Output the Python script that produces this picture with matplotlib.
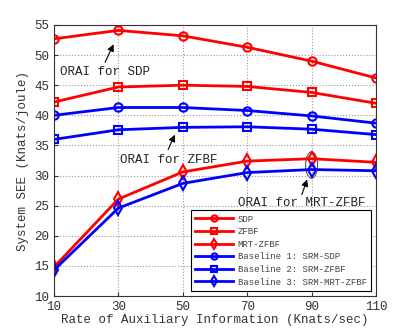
import matplotlib
matplotlib.use('Agg')
import matplotlib.pyplot as plt
from matplotlib.patches import Ellipse

plt.rcParams['font.family'] = ['Liberation Mono', 'DejaVu Sans Mono']

rate = [10, 30, 50, 70, 90, 110]
sdp = [52.7, 54.1, 53.2, 51.3, 49.0, 46.2]
zfbf = [42.2, 44.7, 45.0, 44.8, 43.8, 42.0]
mrt_zfbf = [14.8, 26.1, 30.6, 32.4, 32.8, 32.2]
srm_sdp = [40.0, 41.3, 41.3, 40.8, 39.9, 38.7]
srm_zfbf = [36.0, 37.6, 38.0, 38.1, 37.7, 36.8]
srm_mrt_zfbf = [14.3, 24.6, 28.7, 30.5, 31.0, 30.8]

fig = plt.figure(figsize=(4.15, 3.33), dpi=100)
ax = fig.add_axes([0.130, 0.111, 0.776, 0.814])

lw = 2
ms = 6
ax.plot(rate, sdp, color='red', lw=lw, marker='o', ms=ms, mfc='none', mew=1.5, label='SDP')
ax.plot(rate, zfbf, color='red', lw=lw, marker='s', ms=ms, mfc='none', mew=1.5, label='ZFBF')
ax.plot(rate, mrt_zfbf, color='red', lw=lw, marker='d', ms=ms + 1, mfc='none', mew=1.5, label='MRT-ZFBF')
ax.plot(rate, srm_sdp, color='blue', lw=lw, marker='o', ms=ms, mfc='none', mew=1.5, label='Baseline 1: SRM-SDP')
ax.plot(rate, srm_zfbf, color='blue', lw=lw, marker='s', ms=ms, mfc='none', mew=1.5, label='Baseline 2: SRM-ZFBF')
ax.plot(rate, srm_mrt_zfbf, color='blue', lw=lw, marker='d', ms=ms + 1, mfc='none', mew=1.5, label='Baseline 3: SRM-MRT-ZFBF')

ax.set_xlim(10, 110)
ax.set_ylim(10, 55)
ax.set_xticks(rate)
ax.set_yticks(range(10, 56, 5))
ax.grid(True, linestyle=':', color='#999999', lw=0.8)
ax.tick_params(direction='in', labelsize=9, colors='#333333', length=3)
for s in ax.spines.values():
    s.set_color('#333333')

ax.set_xlabel('Rate of Auxiliary Information (Knats/sec)', fontsize=9, color='#333333', labelpad=1)
ax.set_ylabel('System SEE (Knats/joule)', fontsize=9, color='#333333', labelpad=4)

akw = dict(arrowprops=dict(arrowstyle='-|>', color='black', lw=0.8, mutation_scale=10))
ax.annotate('', xy=(28.9, 52.2), xytext=(25.5, 48.4), **akw)
ax.text(11.9, 47.2, 'ORAI for SDP', fontsize=9, color='#222222', va='center')
ax.annotate('', xy=(47.9, 37.2), xytext=(45.1, 33.9), **akw)
ax.text(30.5, 32.6, 'ORAI for ZFBF', fontsize=9, color='#222222', va='center')
ax.annotate('', xy=(88.9, 29.8), xytext=(86.7, 26.4), **akw)
ax.text(67.1, 25.5, 'ORAI for MRT-ZFBF', fontsize=9, color='#222222', va='center')
ax.add_patch(Ellipse((90, 31.75), 3.7, 4.4, fill=False, edgecolor='#555555', lw=0.8))

leg = ax.legend(loc='lower right', fontsize=6.5, fancybox=False, framealpha=1,
                edgecolor='black', borderaxespad=0.6, handlelength=4.2,
                handletextpad=0.5, labelspacing=0.4, borderpad=0.45,
                markerscale=0.75)
leg.get_frame().set_linewidth(0.8)
for t in leg.get_texts():
    t.set_color('#444444')

fig.savefig('out.png', dpi=100)
